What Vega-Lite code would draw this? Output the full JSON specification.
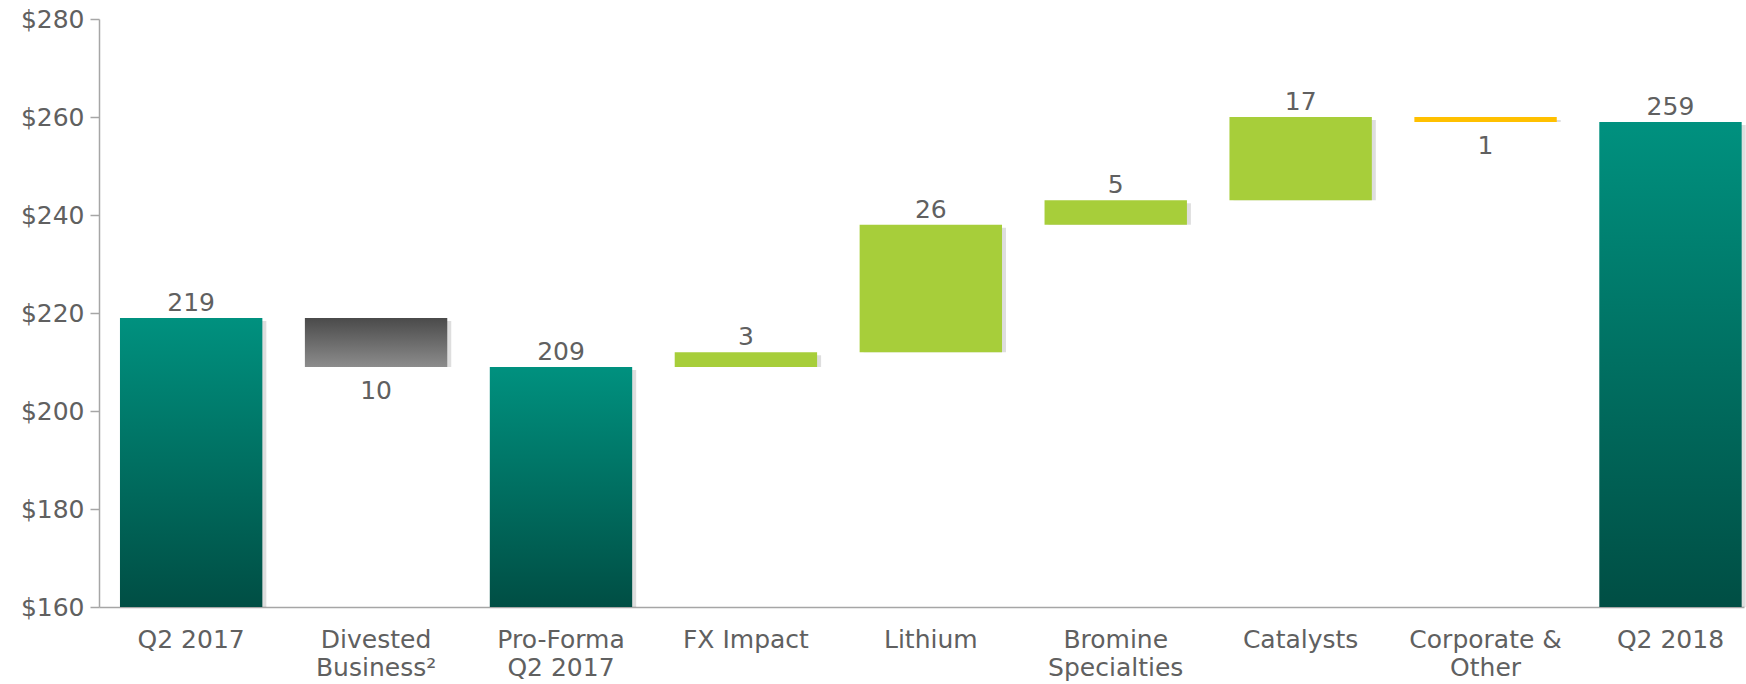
{
  "$schema": "https://vega.github.io/schema/vega-lite/v6.json",
  "width": 1645,
  "height": 588,
  "autosize": {"type": "none"},
  "padding": {"left": 99, "top": 19, "right": 2, "bottom": 77},
  "background": "white",
  "config": {"view": {"stroke": null}, "font": "DejaVu Sans"},
  "data": {
    "values": [
      {"cat": "Q2 2017", "start": 160, "end": 219, "kind": "total", "label": "219", "dir": "up"},
      {"cat": "Divested|Business²", "start": 209, "end": 219, "kind": "neg", "label": "10", "dir": "down"},
      {"cat": "Pro-Forma|Q2 2017", "start": 160, "end": 209, "kind": "total", "label": "209", "dir": "up"},
      {"cat": "FX Impact", "start": 209, "end": 212, "kind": "pos", "label": "3", "dir": "up"},
      {"cat": "Lithium", "start": 212, "end": 238, "kind": "pos", "label": "26", "dir": "up"},
      {"cat": "Bromine|Specialties", "start": 238, "end": 243, "kind": "pos", "label": "5", "dir": "up"},
      {"cat": "Catalysts", "start": 243, "end": 260, "kind": "pos", "label": "17", "dir": "up"},
      {"cat": "Corporate &|Other", "start": 259, "end": 260, "kind": "other", "label": "1", "dir": "down"},
      {"cat": "Q2 2018", "start": 160, "end": 259, "kind": "total", "label": "259", "dir": "up"}
    ]
  },
  "encoding": {
    "x": {
      "field": "cat",
      "type": "nominal",
      "sort": null,
      "scale": {"paddingInner": 0.23, "paddingOuter": 0.063, "align": 0.9},
      "axis": {
        "title": null,
        "labelAngle": 0,
        "ticks": false,
        "labelExpr": "split(datum.value, '|')",
        "domainColor": "#a6a6a6",
        "domainWidth": 1.5,
        "labelFontSize": 25,
        "labelColor": "#606060",
        "labelPadding": 20,
        "labelLineHeight": 28,
        "labelLimit": 400
      }
    },
    "y": {
      "field": "end",
      "type": "quantitative",
      "scale": {"domain": [160, 280], "nice": false, "zero": false},
      "axis": {
        "title": null,
        "grid": false,
        "values": [160, 180, 200, 220, 240, 260, 280],
        "format": "$.0f",
        "domainColor": "#a6a6a6",
        "domainWidth": 1.5,
        "tickColor": "#a6a6a6",
        "tickWidth": 1.5,
        "tickSize": 9,
        "labelFontSize": 25,
        "labelColor": "#606060",
        "labelPadding": 6
      }
    },
    "y2": {"field": "start"}
  },
  "layer": [
    {
      "mark": {"type": "bar", "color": "#000000", "opacity": 0.13, "xOffset": 4, "yOffset": 3}
    },
    {
      "transform": [{"filter": "datum.kind === 'total'"}],
      "mark": {
        "type": "bar",
        "color": {
          "gradient": "linear", "x1": 0, "y1": 0, "x2": 0, "y2": 1,
          "stops": [{"offset": 0, "color": "#00917f"}, {"offset": 1, "color": "#004e44"}]
        }
      }
    },
    {
      "transform": [{"filter": "datum.kind === 'neg'"}],
      "mark": {
        "type": "bar",
        "color": {
          "gradient": "linear", "x1": 0, "y1": 0, "x2": 0, "y2": 1,
          "stops": [{"offset": 0, "color": "#4a4a4a"}, {"offset": 1, "color": "#8c8c8c"}]
        }
      }
    },
    {
      "transform": [{"filter": "datum.kind === 'pos'"}],
      "mark": {"type": "bar", "color": "#a7ce3a"}
    },
    {
      "transform": [{"filter": "datum.kind === 'other'"}],
      "mark": {"type": "bar", "color": "#ffc000"}
    },
    {
      "transform": [{"filter": "datum.dir === 'up'"}],
      "mark": {"type": "text", "fontSize": 25, "color": "#606060", "baseline": "alphabetic", "dy": -7},
      "encoding": {
        "y2": null,
        "text": {"field": "label"}
      }
    },
    {
      "transform": [{"filter": "datum.dir === 'down'"}],
      "mark": {"type": "text", "fontSize": 25, "color": "#606060", "baseline": "top", "dy": 12},
      "encoding": {
        "y": {
          "field": "start",
          "type": "quantitative",
          "scale": {"domain": [160, 280], "nice": false, "zero": false},
          "axis": {
            "title": null,
            "grid": false,
            "values": [160, 180, 200, 220, 240, 260, 280],
            "format": "$.0f",
            "domainColor": "#a6a6a6",
            "domainWidth": 1.5,
            "tickColor": "#a6a6a6",
            "tickWidth": 1.5,
            "tickSize": 9,
            "labelFontSize": 25,
            "labelColor": "#606060",
            "labelPadding": 6
          }
        },
        "y2": null,
        "text": {"field": "label"}
      }
    }
  ]
}
